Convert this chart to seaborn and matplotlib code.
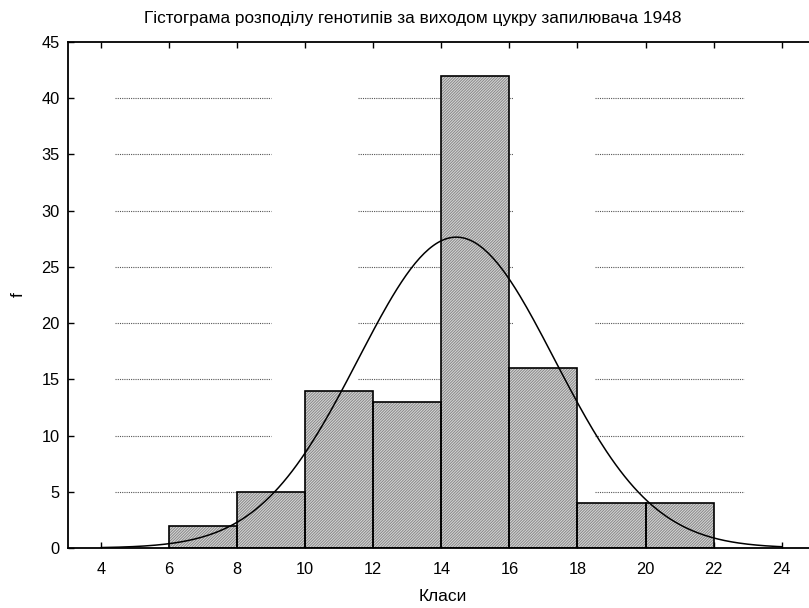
import numpy as np
import matplotlib
matplotlib.use("Agg")
import matplotlib.pyplot as plt
import seaborn as sns

# class edges and frequencies
edges = [6, 8, 10, 12, 14, 16, 18, 20, 22]
counts = [2, 5, 14, 13, 42, 16, 4, 4]
xticks = [4, 6, 8, 10, 12, 14, 16, 18, 20, 22, 24]
yticks = [0, 5, 10, 15, 20, 25, 30, 35, 40, 45]
title = "Гістограма розподілу генотипів за виходом цукру запилювача 1948"
xlabel = "Класи"
ylabel = "f"

sns.set_theme(style="white")
plt.rcParams['font.family'] = ['Liberation Sans', 'DejaVu Sans']
plt.rcParams['hatch.linewidth'] = 0.7
plt.rcParams['text.color'] = 'black'
plt.rcParams['xtick.color'] = 'black'
plt.rcParams['ytick.color'] = 'black'
plt.rcParams['axes.labelcolor'] = 'black'

mids = [(a + b) / 2 for a, b in zip(edges[:-1], edges[1:])]

fig = plt.figure(figsize=(8.09, 6.08), dpi=100)
ax = fig.add_axes([68 / 809, 1 - 548 / 608, 1 - 68 / 809 + 0.01, (548 - 42) / 608])

# dotted grid pieces behind the bars
for y in yticks[1:-1]:
    for x0, x1 in [(4.4, 9.0), (11.55, 16.1), (18.5, 22.9)]:
        ax.plot([x0, x1], [y, y], color="#555555", lw=0.8, ls=(0, (1, 1)), zorder=0)

# textured bars, then black outline
sns.histplot(x=mids, weights=counts, bins=edges, ax=ax, stat="count",
             color="#d8d8d8", edgecolor="#888888", linewidth=0, alpha=1,
             hatch="////////////", zorder=1)
sns.histplot(x=mids, weights=counts, bins=edges, ax=ax, stat="count",
             fill=False, color="black", edgecolor="black", linewidth=1.2, zorder=2)

# fitted normal curve from the grouped data
n = np.sum(counts)
mean = np.average(mids, weights=counts)
sd = np.sqrt(np.sum(np.array(counts) * (np.array(mids) - mean) ** 2) / (n - 1))
xs = np.linspace(4, 24, 300)
width = edges[1] - edges[0]
ys = n * width / (sd * np.sqrt(2 * np.pi)) * np.exp(-0.5 * ((xs - mean) / sd) ** 2)
sns.lineplot(x=xs, y=ys, ax=ax, color="black", lw=1.1, zorder=3)

ax.set_xlim(3.03, 24.8 + 0.24)
ax.set_ylim(0, 45)
ax.set_xticks(xticks)
ax.set_yticks(yticks)
ax.tick_params(axis="x", direction="in", top=True, bottom=True, length=4,
               width=1, labelsize=11.8, pad=10, color="black", labelcolor="black")
ax.tick_params(axis="y", direction="in", left=True, length=4, width=1,
               labelsize=11.8, pad=6, color="black", labelcolor="black")
for side in ["left", "bottom", "top", "right"]:
    ax.spines[side].set_color("black")
    ax.spines[side].set_linewidth(1.3)
ax.set_xlabel(xlabel, fontsize=12.5, labelpad=9)
ax.set_ylabel("")
fig.text(18 / 809, 1 - 295 / 608, ylabel, fontsize=12.5, rotation=90,
         ha="center", va="center")
fig.text(413 / 809, 1 - 18 / 608, title, fontsize=12.4, ha="center", va="center")

fig.savefig("out.png", dpi=100)
